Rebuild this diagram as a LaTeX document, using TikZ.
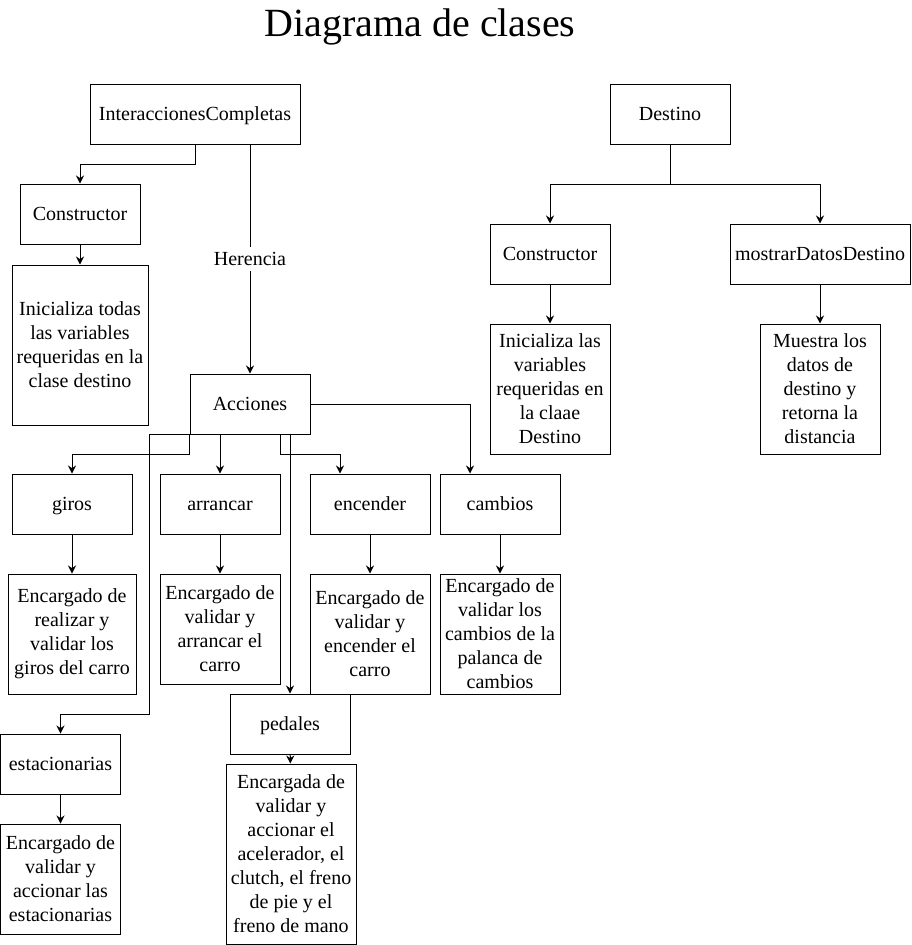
\documentclass[tikz,border=0pt]{standalone}
\usepackage{fontspec}
\setmainfont{Liberation Serif}
\usepackage{tikz}
\usetikzlibrary{arrows.meta}

\begin{document}
\begin{tikzpicture}[x=1pt,y=-1pt,
  box/.style={draw,line width=1pt,minimum width=120pt,minimum height=60pt,inner sep=1pt,align=center,font=\fontsize{20}{24}\selectfont},
  single/.style={box,text height=17.8pt,text depth=4.4pt},
  arr/.style={line width=1pt,-{Stealth[length=8pt,width=8pt]}}]
\useasboundingbox (0,0) rectangle (911,945);
\node[font=\fontsize{40}{44}\selectfont] (title) at (420,27) {Diagrama de clases};
% clase izquierda
\node[single,minimum width=210pt] (ic) at (195,114) {InteraccionesCompletas};
\node[single] (cons1) at (80,214) {Constructor};
\node[box,minimum width=136pt,minimum height=160pt] (dcons1) at (80,345) {Inicializa todas\\las variables\\requeridas en la\\clase destino};
\node[single] (acc) at (250,404) {Acciones};
\node[single] (giros) at (72,504) {giros};
\node[single] (arranc) at (220,504) {arrancar};
\node[single] (enc) at (370,504) {encender};
\node[single] (camb) at (500,504) {cambios};
\node[box,minimum width=128pt,minimum height=120pt] (dgiros) at (72,634) {Encargado de\\realizar y\\validar los\\giros del carro};
\node[box,minimum height=110pt] (darranc) at (220,629) {Encargado de\\validar y\\arrancar el\\carro};
\node[box,minimum height=120pt] (denc) at (370,634) {Encargado de\\validar y\\encender el\\carro};
\node[box,minimum height=120pt] (dcamb) at (500,634) {Encargado de\\validar los\\cambios de la\\palanca de\\cambios};
\node[single] (ped) at (290,724) {pedales};
\node[box,minimum width=130pt,minimum height=180pt] (dped) at (291,854) {Encargada de\\validar y\\accionar el\\acelerador, el\\clutch, el freno\\de pie y el\\freno de mano};
\node[single] (est) at (60.5,764) {estacionarias};
\node[box,minimum height=110pt] (dest) at (60.5,879) {Encargado de\\validar y\\accionar las\\estacionarias};
% clase derecha
\node[single] (destino) at (670,114) {Destino};
\node[single] (cons2) at (550,254) {Constructor};
\node[single,minimum width=180pt] (mos) at (820,254) {mostrarDatosDestino};
\node[box,minimum height=130pt] (dcons2) at (550,389) {Inicializa las\\variables\\requeridas en\\la claae\\Destino};
\node[box,minimum height=130pt] (dmos) at (820,389) {Muestra los\\datos de\\destino y\\retorna la\\distancia};

\draw[arr] (ic.south) -- ++(0,20) -| (cons1.north);
\draw[arr] (cons1) -- (dcons1);
\draw[arr] (ic.south -| acc.north) -- node[fill=white,inner sep=1pt,text height=17.8pt,text depth=4.4pt,font=\fontsize{20}{24}\selectfont] {Herencia} (acc.north);
\draw[arr] (acc.south west) -- ++(0,20) -| (giros.north);
\draw[arr] (arranc.north |- acc.south) -- (arranc.north);
\draw[arr] ([xshift=30pt]acc.south) -- ++(0,20) -| ([xshift=-30pt]enc.north);
\draw[arr] (acc.east) -| ([xshift=-30pt]camb.north);
\draw[arr] (ped.north |- acc.south) -- (ped.north);
\draw[arr] (acc.south west) -- ++(-40,0) -- ++(0,280) -| (est.north);
\draw[arr] (giros) -- (dgiros);
\draw[arr] (arranc) -- (darranc);
\draw[arr] (enc) -- (denc);
\draw[arr] (camb) -- (dcamb);
\draw[arr] (ped) -- (dped);
\draw[arr] (est) -- (dest);
\draw[arr] (destino.south) -- ++(0,40) -| (cons2.north);
\draw[arr] (destino.south) -- ++(0,40) -| (mos.north);
\draw[arr] (cons2) -- (dcons2);
\draw[arr] (mos) -- (dmos);
\end{tikzpicture}
\end{document}
